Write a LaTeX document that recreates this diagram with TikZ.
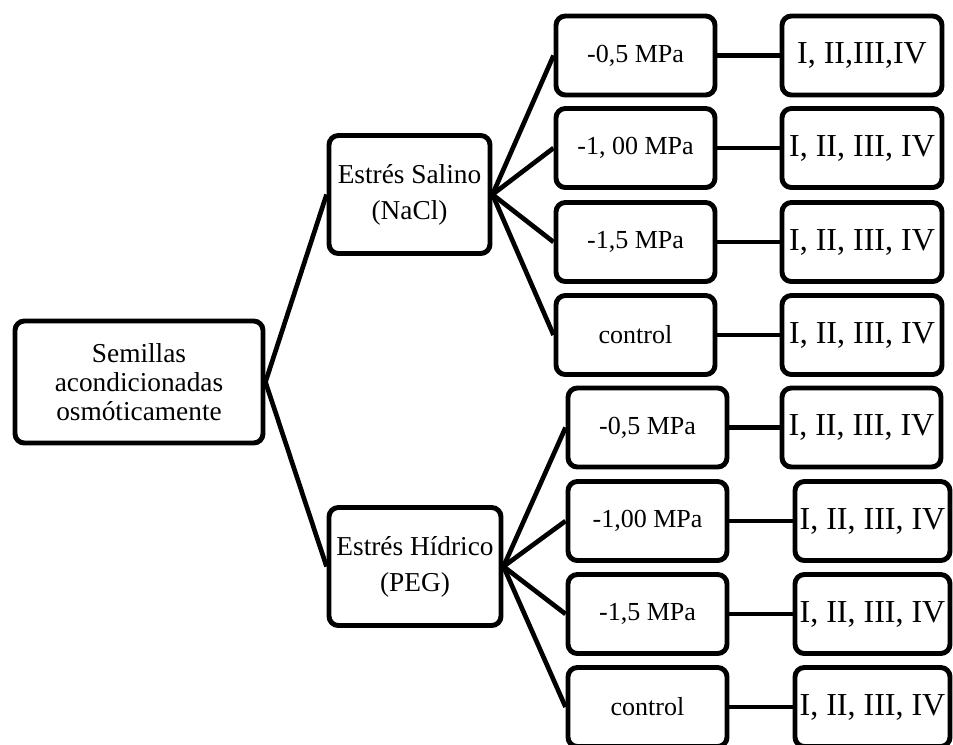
\documentclass[tikz,border=0pt]{standalone}
\usepackage{fontspec}
\setmainfont{Liberation Serif}
\tikzset{
  box/.style={draw=black, line width=3.7pt, rounded corners=7pt, fill=white, align=center, inner sep=0pt},
  rootbox/.style={box, minimum width=186pt, minimum height=91.5pt, font=\fontsize{20.5}{21.5}\selectfont},
  midbox/.style={box, minimum height=88.5pt, font=\fontsize{20.5}{27}\selectfont},
  smallbox/.style={box, minimum width=119.25pt, minimum height=59.25pt, font=\fontsize{19.5}{22}\selectfont},
  numbox/.style={box, minimum height=59.25pt, font=\fontsize{24}{26}\selectfont},
  link/.style={draw=black, line width=3.5pt}
}
\begin{document}
\begin{tikzpicture}[x=0.75pt, y=-0.75pt]
\clip (0,0) rectangle (953,744);
\fill[white] (0,0) rectangle (953,744);

% root and stress nodes
\node[rootbox] (root) at (139,382) {Semillas\\acondicionadas\\osmóticamente};
\node[midbox, minimum width=120.75pt] (sal) at (409.5,194.5) {Estrés Salino\\(NaCl)};
\node[midbox, minimum width=129pt] (hid) at (415,566.5) {Estrés Hídrico\\(PEG)};

% NaCl branch
\node[smallbox] (s1) at (635.5,55.5) {-0,5 MPa};
\node[smallbox] (s2) at (635.5,148) {-1, 00 MPa};
\node[smallbox] (s3) at (635.5,242) {-1,5 MPa};
\node[smallbox] (s4) at (635.5,335) {control};
\node[numbox, minimum width=120pt] (r1) at (862,55.5) {I, II,III,IV};
\node[numbox, minimum width=120pt] (r2) at (862,148) {I, II, III, IV};
\node[numbox, minimum width=120pt] (r3) at (862,242) {I, II, III, IV};
\node[numbox, minimum width=120pt] (r4) at (862,335) {I, II, III, IV};

% PEG branch
\node[smallbox] (p1) at (647.5,427.5) {-0,5 MPa};
\node[smallbox] (p2) at (647.5,521) {-1,00 MPa};
\node[smallbox] (p3) at (647.5,614) {-1,5 MPa};
\node[smallbox] (p4) at (647.5,707) {control};
\node[numbox, minimum width=119.25pt] (q1) at (861.5,427.5) {I, II, III, IV};
\node[numbox, minimum width=116.25pt] (q2) at (872.5,521) {I, II, III, IV};
\node[numbox, minimum width=116.25pt] (q3) at (872.5,614) {I, II, III, IV};
\node[numbox, minimum width=116.25pt] (q4) at (872.5,707) {I, II, III, IV};

% connectors
\path[link] (root.east) -- (sal.west);
\path[link] (root.east) -- (hid.west);
\foreach \n in {s1,s2,s3,s4} {\path[link] (sal.east) -- (\n.west);}
\foreach \n in {p1,p2,p3,p4} {\path[link] (hid.east) -- (\n.west);}
\path[link] (s1.east) -- (r1.west);
\path[link] (s2.east) -- (r2.west);
\path[link] (s3.east) -- (r3.west);
\path[link] (s4.east) -- (r4.west);
\path[link] (p1.east) -- (q1.west);
\path[link] (p2.east) -- (q2.west);
\path[link] (p3.east) -- (q3.west);
\path[link] (p4.east) -- (q4.west);
\end{tikzpicture}
\end{document}
